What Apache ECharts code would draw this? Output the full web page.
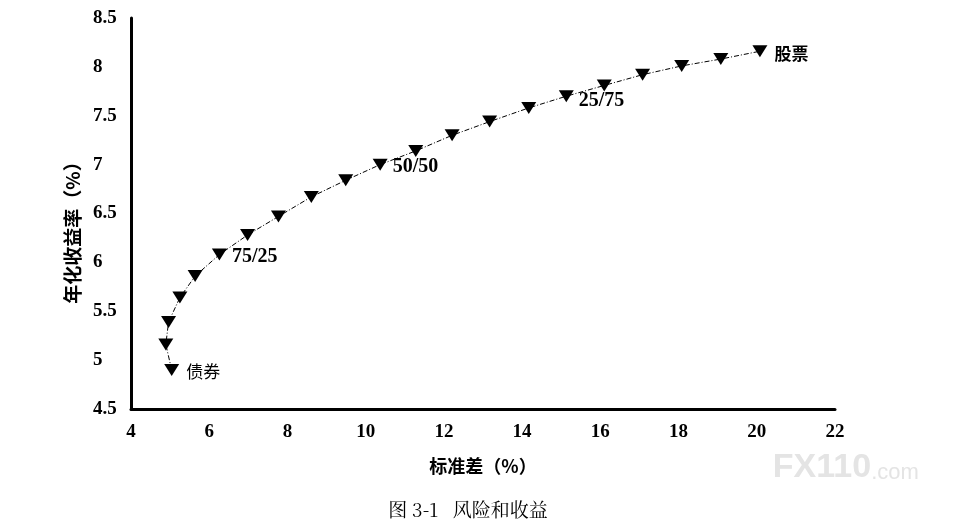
<!DOCTYPE html>
<html><head><meta charset="utf-8">
<script src="https://cdn.jsdelivr.net/npm/echarts@6/dist/echarts.min.js"></script>
<style>html,body{margin:0;padding:0;background:#fff}#c{width:970px;height:532px}</style>
</head><body><div id="c"></div>
<script>
var stdDev = [5.04, 4.89, 4.96, 5.25, 5.64, 6.26, 6.98, 7.77, 8.61, 9.49, 10.37, 11.28, 12.21, 13.17, 14.17, 15.13, 16.10, 17.08, 18.08, 19.08, 20.08];
var annReturn = [4.90, 5.16, 5.39, 5.64, 5.86, 6.08, 6.28, 6.47, 6.67, 6.84, 7.00, 7.14, 7.30, 7.44, 7.58, 7.70, 7.81, 7.92, 8.01, 8.08, 8.16];
var pointLabels = ['债券', '', '', '', '', '75/25', '', '', '', '', '50/50', '', '', '', '', '25/75', '', '', '', '', '股票'];
var xTicks = [4, 6, 8, 10, 12, 14, 16, 18, 20, 22];
var yTicks = [4.5, 5, 5.5, 6, 6.5, 7, 7.5, 8, 8.5];

var serif = '"Liberation Serif", "DejaVu Serif", serif';
var cjk = '"Noto Sans CJK SC", sans-serif';

var data = stdDev.map(function (x, i) {
  var d = { value: [x, annReturn[i]] };
  var t = pointLabels[i];
  if (t) {
    var isCjk = /[\u4e00-\u9fff]/.test(t);
    d.label = {
      show: true, formatter: t, position: 'right',
      distance: isCjk ? 7 : 5,
      offset: t === '25/75' ? [0, 5] : (t === '75/25' || t === '50/50' ? [0, 2] : [0, 2]),
      fontFamily: isCjk ? cjk : serif,
      fontWeight: isCjk ? (t === '股票' ? 'bold' : 'normal') : 'bold',
      fontSize: isCjk ? 17 : 20, color: '#000'
    };
  }
  return d;
});

var chart = echarts.init(document.getElementById('c'));
chart.setOption({
  animation: false,
  backgroundColor: '#fff',
  grid: { left: 131, right: 135, top: 18, bottom: 123 },
  xAxis: {
    type: 'value', min: xTicks[0], max: xTicks[xTicks.length - 1], interval: 2,
    axisLine: { lineStyle: { color: '#000', width: 3 } },
    axisTick: { show: false }, splitLine: { show: false },
    axisLabel: { margin: 14, color: '#000', fontFamily: serif, fontWeight: 'bold', fontSize: 19 },
    name: '标准差（%）', nameLocation: 'middle', nameGap: 48,
    nameTextStyle: { fontFamily: cjk, fontWeight: 'bold', fontSize: 18, color: '#000' }
  },
  yAxis: {
    type: 'value', min: yTicks[0], max: yTicks[yTicks.length - 1], interval: 0.5,
    axisLine: { show: true, lineStyle: { color: '#000', width: 3 } },
    axisTick: { show: false }, splitLine: { show: false },
    axisLabel: { margin: 38, align: 'left', color: '#000', fontFamily: serif, fontWeight: 'bold', fontSize: 19 }
  },
  graphic: [
    { type: 'text', x: 73, y: 228, rotation: Math.PI / 2,
      style: { text: '年化收益率（%）', fill: '#000', font: 'bold 19px "Noto Sans CJK SC", sans-serif', align: 'center', verticalAlign: 'middle' } },
    { type: 'text', x: 468, y: 510,
      style: { text: '图 3-1   风险和收益', fill: '#000', font: '19px "Noto Serif CJK SC", "Noto Sans CJK SC", serif', align: 'center', verticalAlign: 'middle' } },
    { type: 'text', x: 822, y: 468,
      style: { text: 'FX110', fill: '#e4e4e4', font: 'bold 34px "Liberation Sans", sans-serif', align: 'center', verticalAlign: 'middle' } },
    { type: 'text', x: 895, y: 473,
      style: { text: '.com', fill: '#e4e4e4', font: '22px "Liberation Sans", sans-serif', align: 'center', verticalAlign: 'middle' } }
  ],
  series: [{
    type: 'line', data: data,
    symbol: 'triangle', symbolRotate: 180, symbolSize: [15, 12],
    itemStyle: { color: '#000' },
    lineStyle: { color: '#000', width: 1, type: [5, 2, 1, 2] }
  }]
});
</script></body></html>
